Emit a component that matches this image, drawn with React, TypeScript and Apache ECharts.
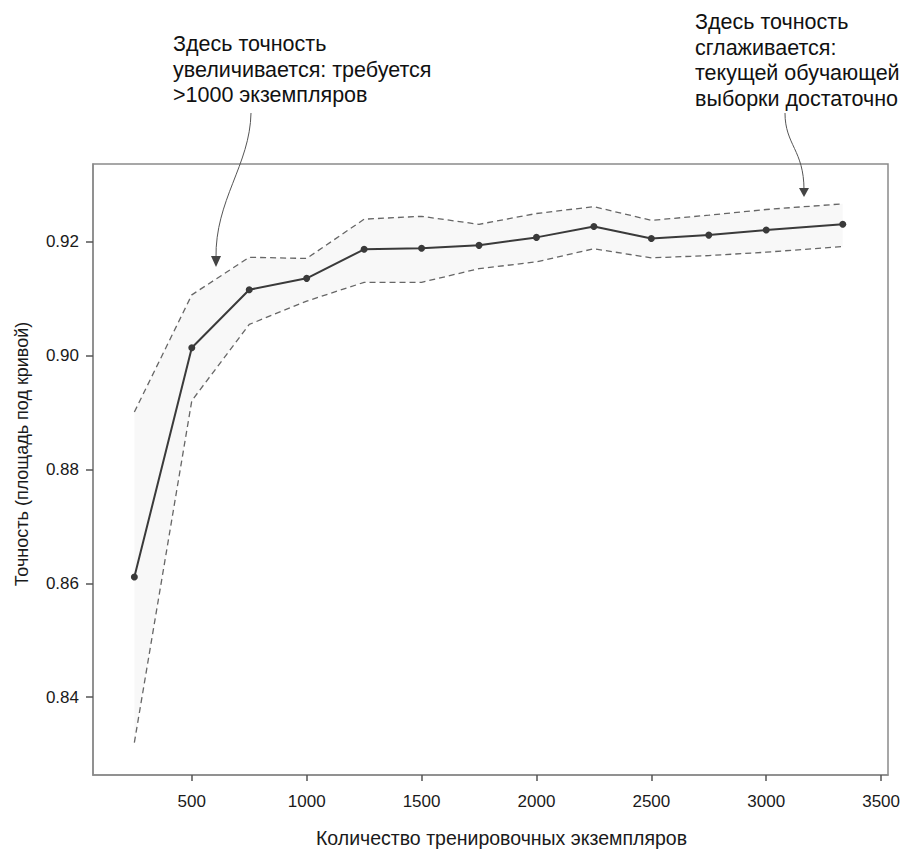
import React, { useEffect, useRef } from "react";
import * as echarts from "echarts";

const sampleSizes = [250, 500, 750, 1000, 1250, 1500, 1750, 2000, 2250, 2500, 2750, 3000, 3333];
const meanScore = [0.8611, 0.9014, 0.9116, 0.9136, 0.9187, 0.9189, 0.9194, 0.9208, 0.9227, 0.9206, 0.9212, 0.9221, 0.9231];
const upperBound = [0.8901, 0.9107, 0.9173, 0.9171, 0.9240, 0.9245, 0.9231, 0.9250, 0.9262, 0.9238, 0.9247, 0.9257, 0.9267];
const lowerBound = [0.8320, 0.8921, 0.9055, 0.9096, 0.9129, 0.9129, 0.9153, 0.9165, 0.9188, 0.9172, 0.9176, 0.9182, 0.9192];
const xTicks = [500, 1000, 1500, 2000, 2500, 3000, 3500];
const yTicks = [0.84, 0.86, 0.88, 0.9, 0.92];

const annotationLeft = ["Здесь точность", "увеличивается: требуется", ">1000 экземпляров"];
const annotationRight = ["Здесь точность", "сглаживается:", "текущей обучающей", "выборки достаточно"];

export default function App() {
  const ref = useRef<HTMLDivElement>(null);
  useEffect(() => {
    const chart = echarts.init(ref.current!, null, { renderer: "svg" });
    const pairs = (ys: number[]) => sampleSizes.map((x, i) => [x, ys[i]]);
    const bandData = sampleSizes.map((x, i) => [x, lowerBound[i], upperBound[i]]);
    const tickFont = { fontFamily: "Liberation Sans", fontSize: 17, color: "#1a1a1a" };
    const annFont = '21.5px "Liberation Sans"';
    const lineTexts = (lines: string[], x: number, y0: number) =>
      lines.map((t, i) => ({ type: "text", x, y: y0 + i * 25.5, style: { text: t, font: annFont, fill: "#111", textVerticalAlign: "middle" } }));
    chart.setOption({
      animation: false,
      backgroundColor: "#fff",
      grid: { left: 93, right: 24, top: 164, bottom: 70, show: true, borderColor: "#8a8a8a", borderWidth: 1.5, backgroundColor: "transparent" },
      xAxis: {
        type: "value",
        min: 70,
        max: 3530,
        name: "Количество тренировочных экземпляров",
        nameLocation: "middle",
        nameGap: 53,
        nameTextStyle: { fontFamily: "Liberation Sans", fontSize: 19.5, color: "#1a1a1a", padding: [0, 0, 0, 22] },
        axisLine: { show: true, lineStyle: { color: "#8a8a8a", width: 1.5 } },
        axisTick: { show: true, customValues: xTicks, length: 6, lineStyle: { color: "#555", width: 1.5 } },
        axisLabel: { customValues: xTicks, margin: 18, formatter: (v: number) => String(v), ...tickFont },
        splitLine: { show: false },
      },
      yAxis: {
        type: "value",
        min: 0.8263,
        max: 0.9337,
        name: "Точность (площадь под кривой)",
        nameLocation: "middle",
        nameGap: 62,
        nameTextStyle: { fontFamily: "Liberation Sans", fontSize: 18, color: "#1a1a1a", padding: [0, 0, 0, 31] },
        axisLine: { show: true, lineStyle: { color: "#8a8a8a", width: 1.5 } },
        axisTick: { show: true, customValues: yTicks, length: 7, lineStyle: { color: "#555", width: 1.5 } },
        axisLabel: { customValues: yTicks, margin: 14, formatter: (v: number) => v.toFixed(2), ...tickFont },
        splitLine: { show: false },
      },
      series: [
        {
          type: "custom",
          data: bandData,
          silent: true,
          z: 1,
          renderItem: (params: any, api: any) => {
            if (params.dataIndex !== 0) return null;
            const top = bandData.map((d) => api.coord([d[0], d[2]]));
            const bottom = bandData.map((d) => api.coord([d[0], d[1]])).reverse();
            return { type: "polygon", shape: { points: top.concat(bottom) }, style: { fill: "rgba(0,0,0,0.028)" } };
          },
        },
        { type: "line", data: pairs(upperBound), symbol: "none", lineStyle: { color: "#666", width: 1.3, type: [6, 4] }, z: 2 },
        { type: "line", data: pairs(lowerBound), symbol: "none", lineStyle: { color: "#666", width: 1.3, type: [6, 4] }, z: 2 },
        { type: "line", data: pairs(meanScore), symbol: "circle", symbolSize: 7, itemStyle: { color: "#3a3a3a" }, lineStyle: { color: "#3a3a3a", width: 2 }, z: 3 },
      ],
      graphic: [
        ...lineTexts(annotationLeft, 173, 44),
        ...lineTexts(annotationRight, 695, 22),
        { type: "bezierCurve", shape: { x1: 251, y1: 113, cpx1: 250, cpy1: 165, cpx2: 215, cpy2: 200, x2: 216, y2: 258 }, style: { stroke: "#555", lineWidth: 1, fill: null } },
        { type: "polygon", shape: { points: [[211, 256], [221, 256], [216, 267]] }, style: { fill: "#444" } },
        { type: "bezierCurve", shape: { x1: 785, y1: 113, cpx1: 785, cpy1: 145, cpx2: 804, cpy2: 150, x2: 804, y2: 190 }, style: { stroke: "#555", lineWidth: 1, fill: null } },
        { type: "polygon", shape: { points: [[799, 188], [809, 188], [804, 197]] }, style: { fill: "#444" } },
      ],
    });
    return () => chart.dispose();
  }, []);
  return <div ref={ref} style={{ position: "fixed", left: 0, top: 0, width: 912, height: 853 }} />;
}
